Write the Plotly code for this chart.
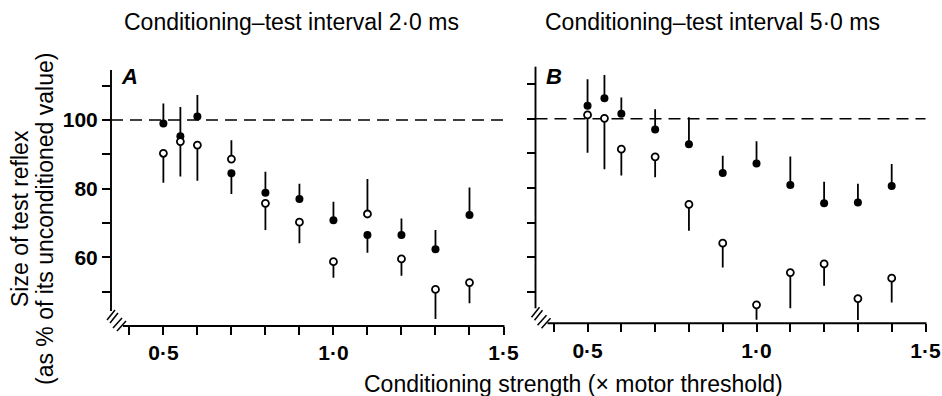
import plotly.graph_objects as go

W, H = 942, 396

# ---------------- data ----------------
strength = [0.5, 0.55, 0.6, 0.7, 0.8, 0.9, 1.0, 1.1, 1.2, 1.3, 1.4]

a_filled = [99.0, 95.3, 101.0, 84.5, 78.8, 77.0, 70.8, 66.5, 66.5, 62.3, 72.3]
a_filled_up = [5.8, 8.5, 6.3, 0, 6.1, 4.4, 5.4, 0, 4.8, 5.6, 8.0]
a_filled_down = [0, 0, 0, 6.1, 0, 0, 0, 5.2, 0, 0, 0]
a_open = [90.3, 93.7, 92.7, 88.6, 75.7, 70.2, 58.7, 72.6, 59.5, 50.6, 52.6]
a_open_up = [0, 0, 0, 5.5, 0, 0, 0, 10.2, 0, 0, 0]
a_open_down = [8.6, 10.2, 10.4, 0, 7.8, 6.1, 4.7, 0, 4.9, 8.6, 6.0]

b_filled = [103.7, 105.9, 101.4, 96.9, 92.6, 84.3, 87.1, 80.9, 75.6, 75.8, 80.6]
b_filled_up = [7.7, 6.7, 4.7, 5.8, 7.8, 5.0, 6.4, 8.2, 6.2, 5.4, 6.3]
b_filled_down = [0, 0, 0, 0, 0, 0, 0, 0, 0, 0, 0]
b_open = [101.1, 100.1, 91.2, 89.0, 75.3, 64.1, 46.3, 55.6, 58.1, 48.1, 54.0]
b_open_up = [0, 0, 0, 0, 0, 0, 0, 0, 0, 0, 0]
b_open_down = [10.9, 14.7, 7.6, 5.9, 7.6, 7.0, 4.3, 10.3, 6.3, 6.2, 7.0]

x_tickvals = [0.4, 0.5, 0.6, 0.7, 0.8, 0.9, 1.0, 1.1, 1.2, 1.3, 1.4, 1.5]
x_ticktext = ["", "0·5", "", "", "", "", "1·0", "", "", "", "", "1·5"]
y_tickvals = [50, 60, 70, 80, 90, 100, 110]
y_ticktext = ["", "60", "", "80", "", "100", ""]

titles = ["Conditioning–test interval 2·0 ms", "Conditioning–test interval 5·0 ms"]
panel_letters = ["A", "B"]
x_title = "Conditioning strength (× motor threshold)"
y_title_1 = "Size of test reflex"
y_title_2 = "(as % of its unconditioned value)"
reference_level = 100

# ---------------- layout geometry (pixels) ----------------
FONT = "Liberation Sans, Arial, sans-serif"
panels = [
    dict(l=111, r=503.5, t=70, b=326, yr=[39.94, 114.58], xr=[0.346, 1.5]),
    dict(l=535.5, r=925.5, t=66.7, b=323.3, yr=[40.97, 115.0], xr=[0.346, 1.5]),
]
AXW = 1.9  # axis line thickness in px


def px(x):
    return x / W


def py(y):
    return 1 - y / H


fig = go.Figure()

series = [
    (a_filled, a_filled_up, a_filled_down, a_open, a_open_up, a_open_down),
    (b_filled, b_filled_up, b_filled_down, b_open, b_open_up, b_open_down),
]

for i, (f, fu, fd, o, ou, od) in enumerate(series):
    xa = "x" if i == 0 else "x2"
    ya = "y" if i == 0 else "y2"
    fig.add_trace(go.Scatter(
        x=strength, y=f, mode="markers", xaxis=xa, yaxis=ya,
        marker=dict(symbol="circle", size=8, color="black", line=dict(width=0)),
        error_y=dict(type="data", symmetric=False, array=fu, arrayminus=fd,
                     color="black", thickness=1.8, width=0),
        showlegend=False, cliponaxis=False,
    ))
    fig.add_trace(go.Scatter(
        x=strength, y=o, mode="markers", xaxis=xa, yaxis=ya,
        marker=dict(symbol="circle", size=7, color="white",
                    line=dict(width=1.8, color="black")),
        error_y=dict(type="data", symmetric=False, array=ou, arrayminus=od,
                     color="black", thickness=1.8, width=0),
        showlegend=False, cliponaxis=False,
    ))

for i, p in enumerate(panels):
    sfx = "" if i == 0 else "2"
    common = dict(showgrid=False, zeroline=False, automargin=False, showline=False,
                  ticks="outside", ticklen=8, tickwidth=1.6, tickcolor="black",
                  tickfont=dict(family=FONT, size=21, color="black", weight="bold"))
    fig.update_layout(**{
        "xaxis" + sfx: dict(domain=[px(p["l"]), px(p["r"])], range=p["xr"],
                            anchor="y" + sfx, tickmode="array",
                            tickvals=x_tickvals, ticktext=x_ticktext, **common),
        "yaxis" + sfx: dict(domain=[py(p["b"]), py(p["t"])], range=p["yr"],
                            anchor="x" + sfx, tickmode="array",
                            tickvals=y_tickvals, ticktext=y_ticktext,
                            showticklabels=(i == 0), **dict(common)),
    })

for i, p in enumerate(panels):
    sfx = "" if i == 0 else "2"
    ax, ay = p["l"], p["b"]
    # y axis spine (stops short of the corner: broken axis)
    fig.add_shape(type="rect", xref="paper", yref="paper", layer="above",
                  x0=px(ax - AXW / 2), x1=px(ax + AXW / 2), y0=py(ay - 15), y1=py(p["t"]),
                  fillcolor="black", line=dict(width=0))
    # x axis spine
    fig.add_shape(type="rect", xref="paper", yref="paper", layer="above",
                  x0=px(ax + 12), x1=px(p["r"] + AXW / 2), y0=py(ay + AXW / 2), y1=py(ay - AXW / 2),
                  fillcolor="black", line=dict(width=0))
    # break marks
    for (dx0, dy0, dx1, dy1) in [(-4, -6, 4, -16), (-1, -3, 7, -13), (2, 2, 11, -8), (6, 5, 15, -5)]:
        fig.add_shape(type="line", xref="paper", yref="paper", layer="above",
                      x0=px(ax + dx0), y0=py(ay + dy0), x1=px(ax + dx1), y1=py(ay + dy1),
                      line=dict(color="black", width=1.5))
    # dashed reference line at 100 %
    fig.add_shape(type="line", xref="x" + sfx + " domain", yref="y" + sfx, layer="below",
                  x0=0, x1=1, y0=reference_level, y1=reference_level,
                  line=dict(color="black", width=1.6, dash="12px,7px"))
    # panel letter
    fig.add_annotation(text="<b><i>%s</i></b>" % panel_letters[i], xref="paper", yref="paper",
                       x=px(ax + 8), y=py(77), xanchor="left", yanchor="middle",
                       showarrow=False, font=dict(family=FONT, size=22, color="black"))

for i, cx in enumerate([291, 712]):
    fig.add_annotation(text=titles[i], xref="paper", yref="paper", x=px(cx), y=py(22),
                       xanchor="center", yanchor="middle", showarrow=False,
                       font=dict(family=FONT, size=23, color="black"))

fig.add_annotation(text=x_title, xref="paper", yref="paper", x=px(573), y=py(384),
                   xanchor="center", yanchor="middle", showarrow=False,
                   font=dict(family=FONT, size=23, color="black"))
fig.add_annotation(text=y_title_1, xref="paper", yref="paper", x=px(20), y=py(219),
                   xanchor="center", yanchor="middle", textangle=-90, showarrow=False,
                   font=dict(family=FONT, size=23, color="black"))
fig.add_annotation(text=y_title_2, xref="paper", yref="paper", x=px(45), y=py(219),
                   xanchor="center", yanchor="middle", textangle=-90, showarrow=False,
                   font=dict(family=FONT, size=23, color="black"))

fig.update_layout(
    width=W, height=H, autosize=False, margin=dict(l=0, r=0, t=0, b=0, pad=0),
    paper_bgcolor="white", plot_bgcolor="white", showlegend=False,
)

fig.write_html("out.html")
